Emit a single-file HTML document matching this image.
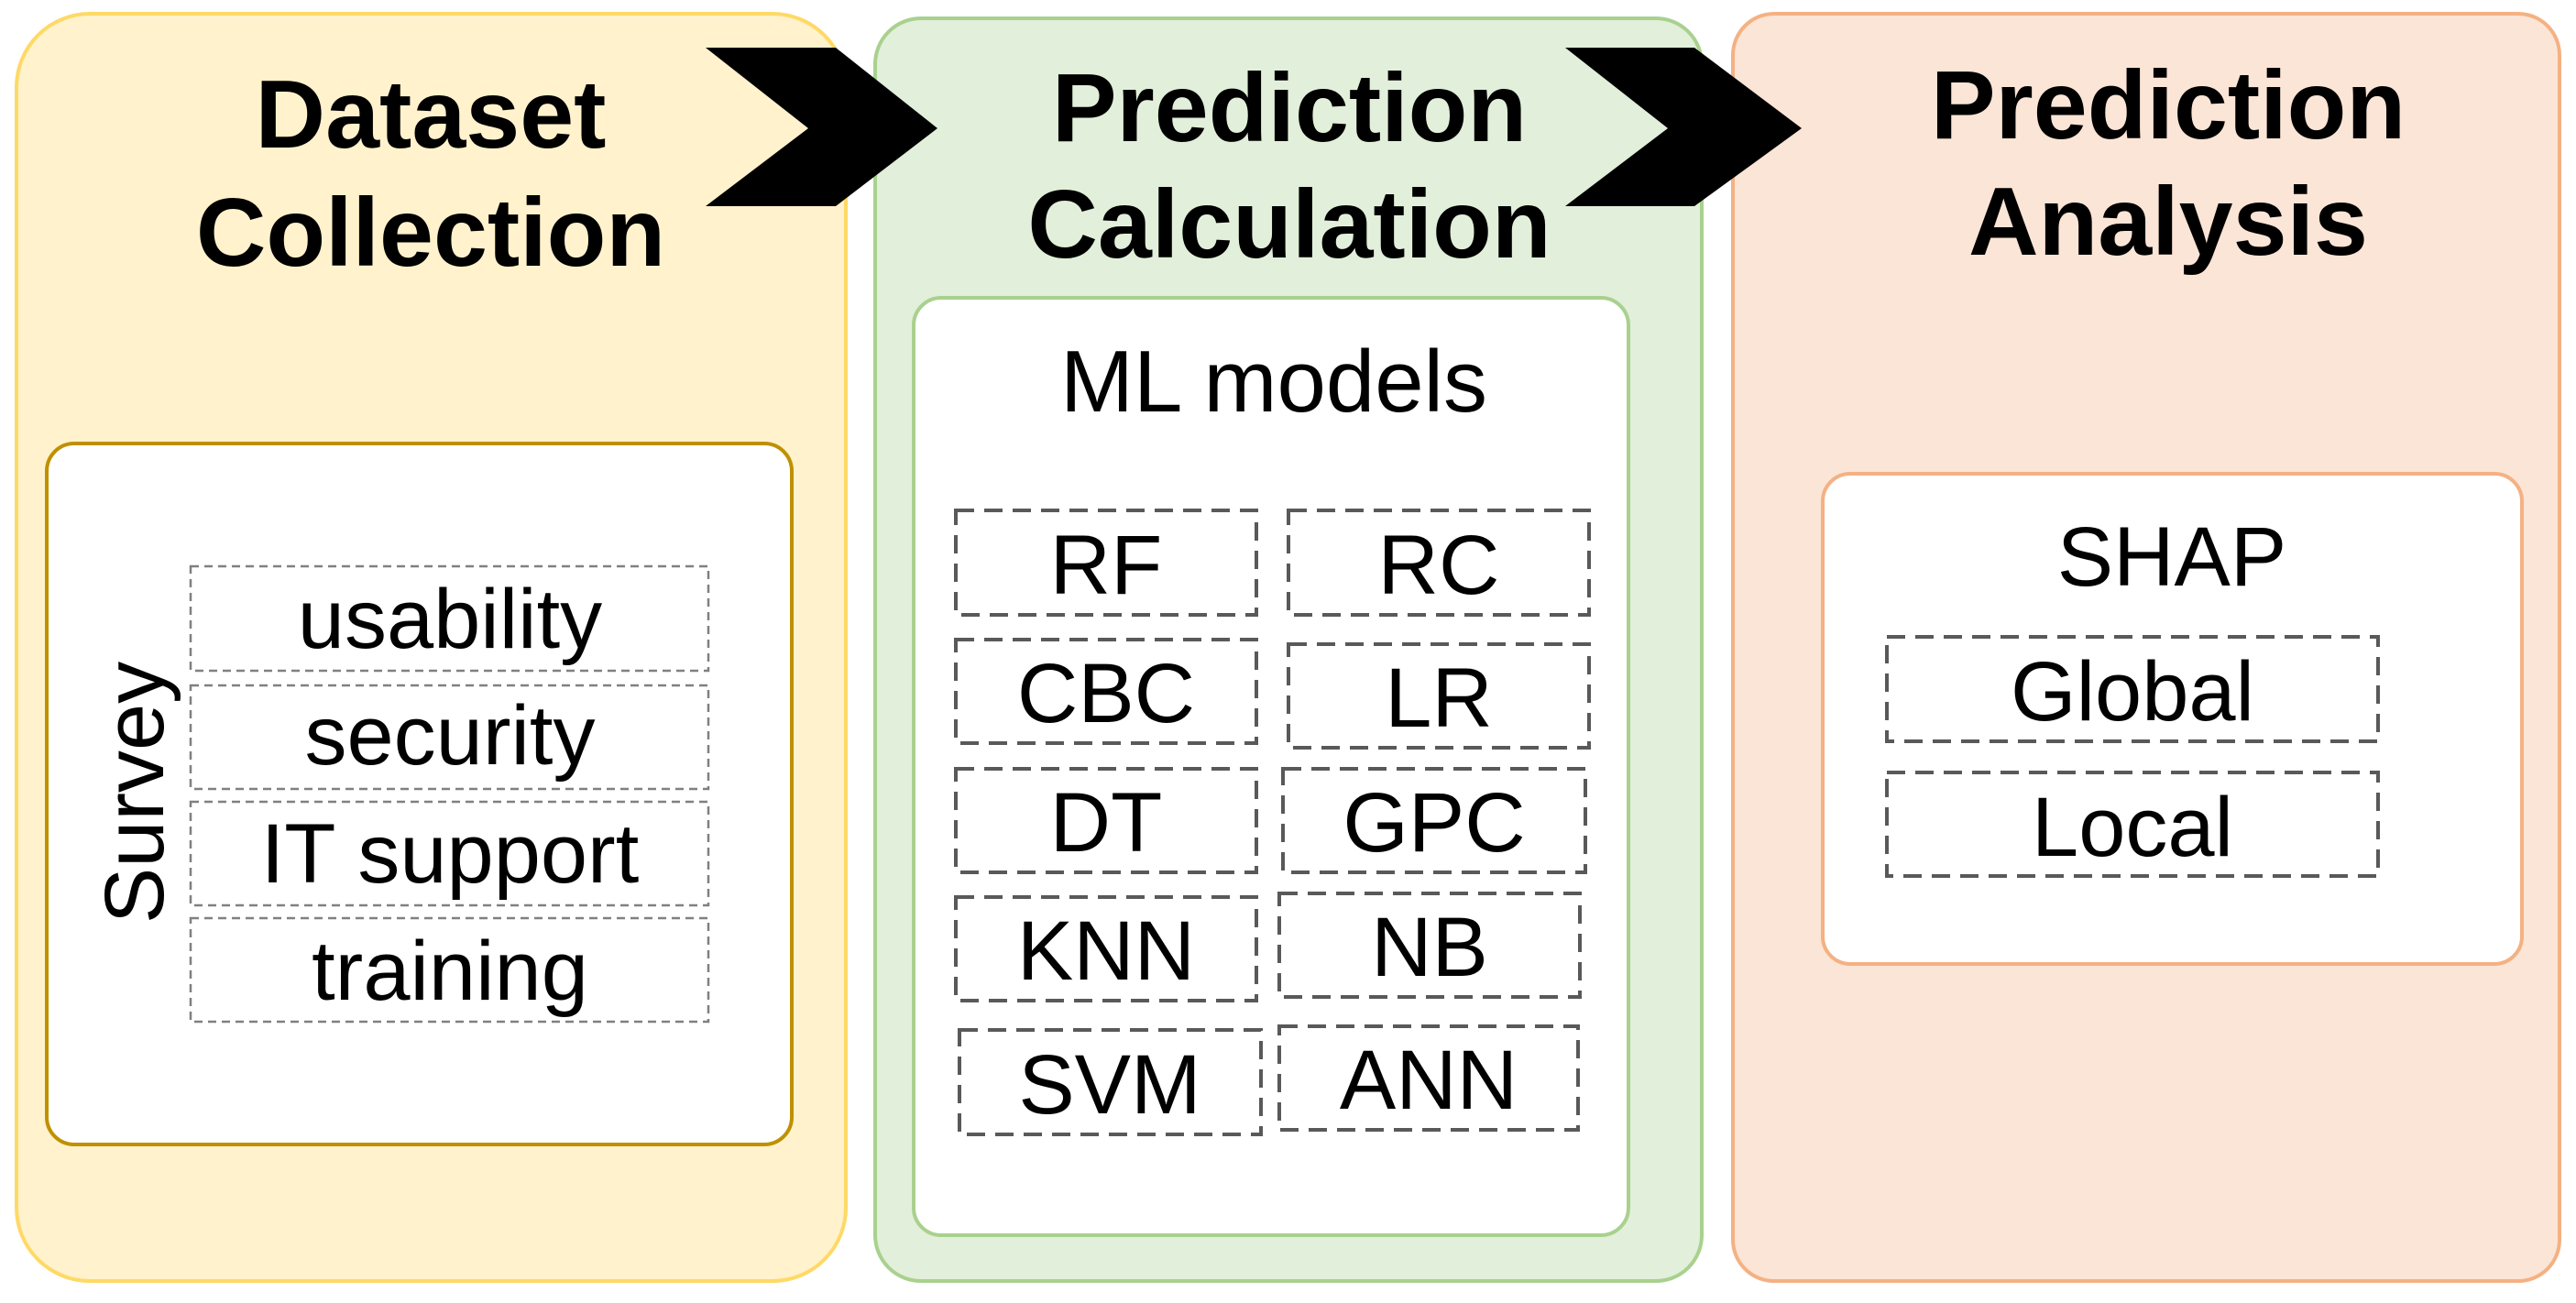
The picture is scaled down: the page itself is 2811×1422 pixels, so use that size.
<!DOCTYPE html>
<html><head><meta charset="utf-8"><style>
html,body{margin:0;padding:0;background:#fff;}
svg{display:block;}
text{font-family:"Liberation Sans",sans-serif;fill:#000;}
.t{font-weight:bold;font-size:106px;text-anchor:middle;}
.b{font-size:92px;text-anchor:middle;}
.d{fill:none;stroke:#595959;stroke-width:4;stroke-dasharray:20 11;}
.ds{fill:none;stroke:#808080;stroke-width:2.5;stroke-dasharray:9 6;}
</style></head><body>
<svg width="2811" height="1422" viewBox="0 0 2811 1422" xmlns="http://www.w3.org/2000/svg">
<rect x="18" y="15" width="905" height="1383" rx="80" fill="#fff2cc" stroke="#ffd966" stroke-width="4"/>
<rect x="955" y="20" width="902" height="1378" rx="50" fill="#e2efda" stroke="#a9d18e" stroke-width="4"/>
<rect x="1891" y="15" width="902" height="1383" rx="45" fill="#fbe5d6" stroke="#f4b183" stroke-width="4"/>

<polygon points="770,52 912,52 1023,140 912,225 770,225 882,140" fill="#000"/>
<polygon points="1708,52 1849,52 1966,140 1849,225 1708,225 1820,140" fill="#000"/>

<text class="t" x="470" y="161">Dataset</text>
<text class="t" x="470" y="290">Collection</text>
<text class="t" x="1407" y="154">Prediction</text>
<text class="t" x="1407" y="281">Calculation</text>
<text class="t" x="2366" y="151">Prediction</text>
<text class="t" x="2366" y="278">Analysis</text>

<!-- yellow inner -->
<rect x="51" y="484" width="813" height="765" rx="30" fill="#fff" stroke="#bf9000" stroke-width="4"/>
<rect x="208" y="618" width="565" height="114" class="ds"/>
<rect x="208" y="748" width="565" height="113" class="ds"/>
<rect x="208" y="875" width="565" height="113" class="ds"/>
<rect x="208" y="1002" width="565" height="113" class="ds"/>
<text class="b" x="491" y="707">usability</text>
<text class="b" x="491" y="834">security</text>
<text class="b" x="491" y="963">IT support</text>
<text class="b" x="491" y="1091">training</text>
<text class="b" transform="translate(178,865) rotate(-90)" x="0" y="0">Survey</text>

<!-- green inner -->
<rect x="997" y="325" width="780" height="1023" rx="30" fill="#fff" stroke="#a9d18e" stroke-width="4"/>
<text class="b" x="1390" y="449" style="font-size:96px">ML models</text>
<rect class="d" x="1043" y="557" width="328" height="114"/>
<rect class="d" x="1043" y="698" width="328" height="113"/>
<rect class="d" x="1043" y="839" width="328" height="113"/>
<rect class="d" x="1043" y="979" width="328" height="113"/>
<rect class="d" x="1047" y="1124" width="329" height="114"/>
<rect class="d" x="1406" y="557" width="328" height="114"/>
<rect class="d" x="1406" y="703" width="328" height="113"/>
<rect class="d" x="1400" y="839" width="330" height="113"/>
<rect class="d" x="1396" y="975" width="328" height="113"/>
<rect class="d" x="1396" y="1120" width="326" height="113"/>
<text class="b" x="1207" y="648">RF</text>
<text class="b" x="1207" y="788">CBC</text>
<text class="b" x="1207" y="929">DT</text>
<text class="b" x="1207" y="1069">KNN</text>
<text class="b" x="1211" y="1215">SVM</text>
<text class="b" x="1570" y="648">RC</text>
<text class="b" x="1570" y="793">LR</text>
<text class="b" x="1565" y="929">GPC</text>
<text class="b" x="1560" y="1065">NB</text>
<text class="b" x="1559" y="1210">ANN</text>

<!-- orange inner -->
<rect x="1989" y="517" width="763" height="535" rx="30" fill="#fff" stroke="#f4b183" stroke-width="4"/>
<text class="b" x="2370" y="639">SHAP</text>
<rect class="d" x="2059" y="695" width="536" height="114"/>
<rect class="d" x="2059" y="843" width="536" height="113"/>
<text class="b" x="2327" y="786">Global</text>
<text class="b" x="2327" y="934">Local</text>
</svg>
</body></html>
